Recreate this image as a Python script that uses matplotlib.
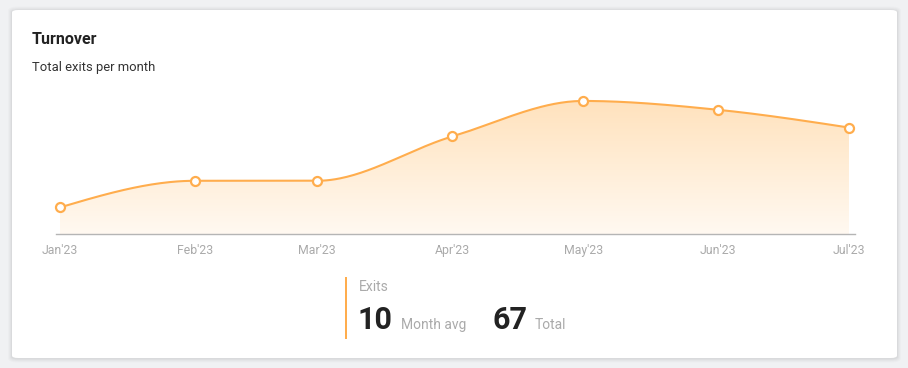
import numpy as np
import matplotlib
matplotlib.use("Agg")
import matplotlib.pyplot as plt
import matplotlib.dates as mdates
from matplotlib.patches import FancyBboxPatch, Rectangle, PathPatch
from matplotlib.colors import LinearSegmentedColormap
from matplotlib.path import Path
import datetime as dt

plt.rcParams['font.family'] = ['Roboto', 'DejaVu Sans']

# ---- data ----
months = ["2023-01-01", "2023-02-01", "2023-03-01", "2023-04-01",
          "2023-05-01", "2023-06-01", "2023-07-01"]
tick_labels = ["Jan'23", "Feb'23", "Mar'23", "Apr'23", "May'23", "Jun'23", "Jul'23"]
exits = [3, 6, 6, 11, 15, 14, 12]
title = "Turnover"
subtitle = "Total exits per month"
stat_label = "Exits"
avg_value = "10"
avg_label = "Month avg"
total_value = "67"
total_label = "Total"

LINE = "#ffad4d"

W, H = 908, 368
fig = plt.figure(figsize=(W / 100, H / 100), dpi=100)
fig.patch.set_facecolor("#f0f1f3")

def fx(px):
    return px / W

def fy(py):
    return 1 - py / H

# soft card shadow + card
for g, a in [(4.0, 0.015), (3.0, 0.02), (2.0, 0.025), (1.0, 0.03)]:
    sh = FancyBboxPatch((fx(12 - g), fy(358 + g + 0.5)), fx(885 + 2 * g), (348 + 2 * g) / H,
                        boxstyle="round,pad=0,rounding_size=%f" % ((6 + g) / W),
                        transform=fig.transFigure, facecolor="#000000", alpha=a,
                        edgecolor="none", zorder=0)
    fig.patches.append(sh)
card = FancyBboxPatch((fx(12), fy(358)), fx(885), 348 / H,
                      boxstyle="round,pad=0,rounding_size=%f" % (6 / W),
                      transform=fig.transFigure, facecolor="white",
                      edgecolor="none", zorder=1)
fig.patches.append(card)

# texts
fig.text(fx(32), fy(40), title, fontsize=11.5, fontweight="bold", color="#222222",
         va="center", ha="left", zorder=5)
fig.text(fx(32), fy(67), subtitle, fontsize=9.4, color="#333333",
         va="center", ha="left", zorder=5)

# ---- chart axes ----
dates = [dt.datetime.strptime(m, "%Y-%m-%d") for m in months]
xd = mdates.date2num(dates)
y = np.array(exits, dtype=float)

x_left_px, x_right_px = 56, 855
jan_px, jul_px = 60, 849
ppd = (jul_px - jan_px) / (xd[-1] - xd[0])
xmin = xd[0] - (jan_px - x_left_px) / ppd
xmax = xd[-1] + (x_right_px - jul_px) / ppd

base_px = 234
ppu = 8.87
ymax = 17.0
top_px = base_px - ymax * ppu

ax = fig.add_axes([fx(x_left_px), fy(base_px), fx(x_right_px - x_left_px), (base_px - top_px) / H])
ax.set_xlim(xmin, xmax)
ax.set_ylim(0, ymax)
ax.patch.set_alpha(0)
ax.set_zorder(3)
for s in ["top", "right", "left"]:
    ax.spines[s].set_visible(False)
ax.spines["bottom"].set_color("#b5b5b5")
ax.spines["bottom"].set_linewidth(1.0)
ax.set_yticks([])
ax.set_xticks(xd)
ax.set_xticklabels(tick_labels, fontsize=8.8, color="#aaaaaa")
ax.tick_params(axis="x", length=0, pad=7)

# monotone cubic (d3 curveMonotoneX style)
def sgn(v):
    return -1.0 if v < 0 else 1.0

n = len(xd)
t = np.zeros(n)
for i in range(1, n - 1):
    h0 = xd[i] - xd[i - 1]
    h1 = xd[i + 1] - xd[i]
    s0 = (y[i] - y[i - 1]) / h0
    s1 = (y[i + 1] - y[i]) / h1
    p = (s0 * h1 + s1 * h0) / (h0 + h1)
    t[i] = (sgn(s0) + sgn(s1)) * min(abs(s0), abs(s1), 0.5 * abs(p))
h = xd[1] - xd[0]
t[0] = (3 * (y[1] - y[0]) / h - t[1]) / 2
h = xd[-1] - xd[-2]
t[-1] = (3 * (y[-1] - y[-2]) / h - t[-2]) / 2

cx, cy = [], []
for i in range(n - 1):
    x0, x1 = xd[i], xd[i + 1]
    y0, y1 = y[i], y[i + 1]
    d = (x1 - x0) / 3
    P0 = np.array([x0, y0]); P1 = np.array([x0 + d, y0 + d * t[i]])
    P2 = np.array([x1 - d, y1 - d * t[i + 1]]); P3 = np.array([x1, y1])
    uu = np.linspace(0, 1, 60)[:, None]
    B = ((1 - uu) ** 3) * P0 + 3 * ((1 - uu) ** 2) * uu * P1 + 3 * (1 - uu) * uu ** 2 * P2 + uu ** 3 * P3
    if i > 0:
        B = B[1:]
    cx.extend(B[:, 0]); cy.extend(B[:, 1])
cx = np.array(cx); cy = np.array(cy)

# gradient fill
verts = np.vstack([np.column_stack([cx, cy]), [[cx[-1], 0], [cx[0], 0]]])
poly = Path(verts)
cmap = LinearSegmentedColormap.from_list("g", ["#fff9f1", "#ffe2bd"])
grad = np.linspace(0, 1, 256).reshape(-1, 1)
im = ax.imshow(grad, extent=[xd[0], xd[-1], 0, y.max()], origin="lower",
               aspect="auto", cmap=cmap, zorder=1)
clip = PathPatch(poly, transform=ax.transData, facecolor="none", edgecolor="none")
ax.add_patch(clip)
im.set_clip_path(clip)
ax.set_xlim(xmin, xmax)
ax.set_ylim(0, ymax)

ax.plot(cx, cy, color=LINE, lw=1.5, zorder=2, solid_capstyle="round")
ax.plot(xd, y, "o", ms=6.5, mfc="white", mec=LINE, mew=1.6, zorder=4, clip_on=False)

# ---- stats ----
fig.patches.append(Rectangle((fx(344.5), fy(339)), fx(2.5), 62 / H, transform=fig.transFigure,
                             facecolor=LINE, edgecolor="none", zorder=5))
fig.text(fx(359), fy(287), stat_label, fontsize=10, color="#aaaaaa", va="center", ha="left", zorder=5)
fig.text(fx(358), fy(329), avg_value, fontsize=22, fontweight="bold", color="#222222",
         va="baseline", ha="left", zorder=5)
fig.text(fx(401), fy(329), avg_label, fontsize=10, color="#aaaaaa", va="baseline", ha="left", zorder=5)
fig.text(fx(492), fy(329), total_value, fontsize=22, fontweight="bold", color="#222222",
         va="baseline", ha="left", zorder=5)
fig.text(fx(535), fy(329), total_label, fontsize=10, color="#aaaaaa", va="baseline", ha="left", zorder=5)

fig.savefig("out.png", dpi=100, facecolor=fig.get_facecolor())
